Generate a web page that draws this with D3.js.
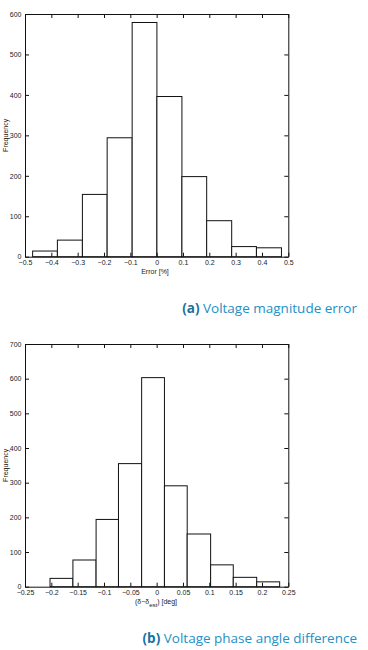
<!DOCTYPE html>
<html><head><meta charset="utf-8">
<script src="https://cdn.jsdelivr.net/npm/d3@7"></script>
<style>
body{margin:0;background:#fff;}
svg{display:block;}
.tick text{font-family:"Liberation Sans",Arial,sans-serif;font-size:7px;fill:#222;}
.domain{stroke:#111;}
.tick line{stroke:#111;}
</style></head><body>
<svg id="c" width="368" height="650"></svg>
<script>
// Chart (a): voltage magnitude error histogram
const aEdges = [-0.471, -0.377, -0.282, -0.188, -0.093, 0.001, 0.096, 0.190, 0.285, 0.379, 0.474];
const aCounts = [14, 41, 154, 294, 579, 396, 198, 89, 25, 22];
const aXTicks = [-0.5, -0.4, -0.3, -0.2, -0.1, 0, 0.1, 0.2, 0.3, 0.4, 0.5];
const aYTicks = [0, 100, 200, 300, 400, 500, 600];
// Chart (b): voltage phase angle difference histogram
const bEdges = [-0.2025, -0.159, -0.115, -0.0725, -0.0285, 0.0148, 0.058, 0.1025, 0.1455, 0.19, 0.2336];
const bCounts = [24, 77, 194, 355, 603, 291, 152, 63, 27, 14];
const bXTicks = [-0.25, -0.2, -0.15, -0.1, -0.05, 0, 0.05, 0.1, 0.15, 0.2, 0.25];
const bYTicks = [0, 100, 200, 300, 400, 500, 600, 700];

const svg = d3.select("#c");
const L = 25, R = 288.3;

function drawHist(cfg) {
  const g = svg.append("g");
  const x = d3.scaleLinear().domain(cfg.xDom).range([L, R]);
  const y = d3.scaleLinear().domain(cfg.yDom).range([cfg.bottom, cfg.top]);
  const fmt = d => d === 0 ? "0" : d3.format("")(d).replace("-", "\u2212");
  // bars
  g.append("g").selectAll("rect").data(cfg.counts).join("rect")
    .attr("x", (d, i) => x(cfg.edges[i]))
    .attr("width", (d, i) => x(cfg.edges[i + 1]) - x(cfg.edges[i]))
    .attr("y", d => y(d))
    .attr("height", d => y(0) - y(d))
    .attr("fill", "#fff").attr("stroke", "#111").attr("stroke-width", 1);
  // axes
  g.append("g").attr("transform", `translate(0,${cfg.bottom})`)
    .call(d3.axisBottom(x).tickValues(cfg.xTicks).tickFormat(fmt).tickSizeInner(-4).tickSizeOuter(0).tickPadding(3.5));
  g.append("g").attr("transform", `translate(0,${cfg.top})`)
    .call(d3.axisTop(x).tickValues(cfg.xTicks).tickFormat("").tickSizeInner(-4).tickSizeOuter(0));
  g.append("g").attr("transform", `translate(${L},0)`)
    .call(d3.axisLeft(y).tickValues(cfg.yTicks).tickFormat(d3.format("d")).tickSizeInner(-4).tickSizeOuter(0).tickPadding(3.5));
  g.append("g").attr("transform", `translate(${R},0)`)
    .call(d3.axisRight(y).tickValues(cfg.yTicks).tickFormat("").tickSizeInner(-4).tickSizeOuter(0));
  g.selectAll(".domain").attr("stroke", "#111");
  // y label
  g.append("text").attr("transform", `translate(8,${(cfg.top + cfg.bottom) / 2}) rotate(-90)`)
    .attr("text-anchor", "middle")
    .style("font-family", "Liberation Sans,Arial,sans-serif").style("font-size", "7px").style("fill", "#222")
    .text("Frequency");
  // x label
  const xl = g.append("text").attr("x", cfg.xLabelX).attr("y", cfg.bottom + 17)
    .attr("text-anchor", "middle")
    .style("font-family", "Liberation Sans,Arial,sans-serif").style("font-size", "7px").style("fill", "#222");
  cfg.xLabel(xl);
  // caption
  const cap = svg.append("text").attr("x", 357).attr("y", cfg.capY).attr("text-anchor", "end")
    .style("font-family", "Open Sans,Noto Sans,sans-serif").style("font-size", "13.5px");
  cap.append("tspan").attr("font-weight", "bold").attr("fill", "#17729f").text(cfg.capBold);
  cap.append("tspan").attr("fill", "#2390c6").text(" " + cfg.capText);
}

drawHist({
  xDom: [-0.5, 0.5], yDom: [0, 600], top: 14, bottom: 256.7,
  edges: aEdges, counts: aCounts, xTicks: aXTicks, yTicks: aYTicks,
  xLabelX: 155,
  xLabel: t => t.text("Error [%]"),
  capY: 313, capBold: "(a)", capText: "Voltage magnitude error"
});
drawHist({
  xDom: [-0.25, 0.25], yDom: [0, 700], top: 344, bottom: 586.7,
  edges: bEdges, counts: bCounts, xTicks: bXTicks, yTicks: bYTicks,
  xLabelX: 156,
  xLabel: t => {
    t.append("tspan").text("(\u03b4\u2212\u03b4");
    t.append("tspan").attr("dy", 3).style("font-size", "6px").text("est");
    t.append("tspan").attr("dy", -3).text(") [deg]");
  },
  capY: 643, capBold: "(b)", capText: "Voltage phase angle difference"
});
</script>
</body></html>
